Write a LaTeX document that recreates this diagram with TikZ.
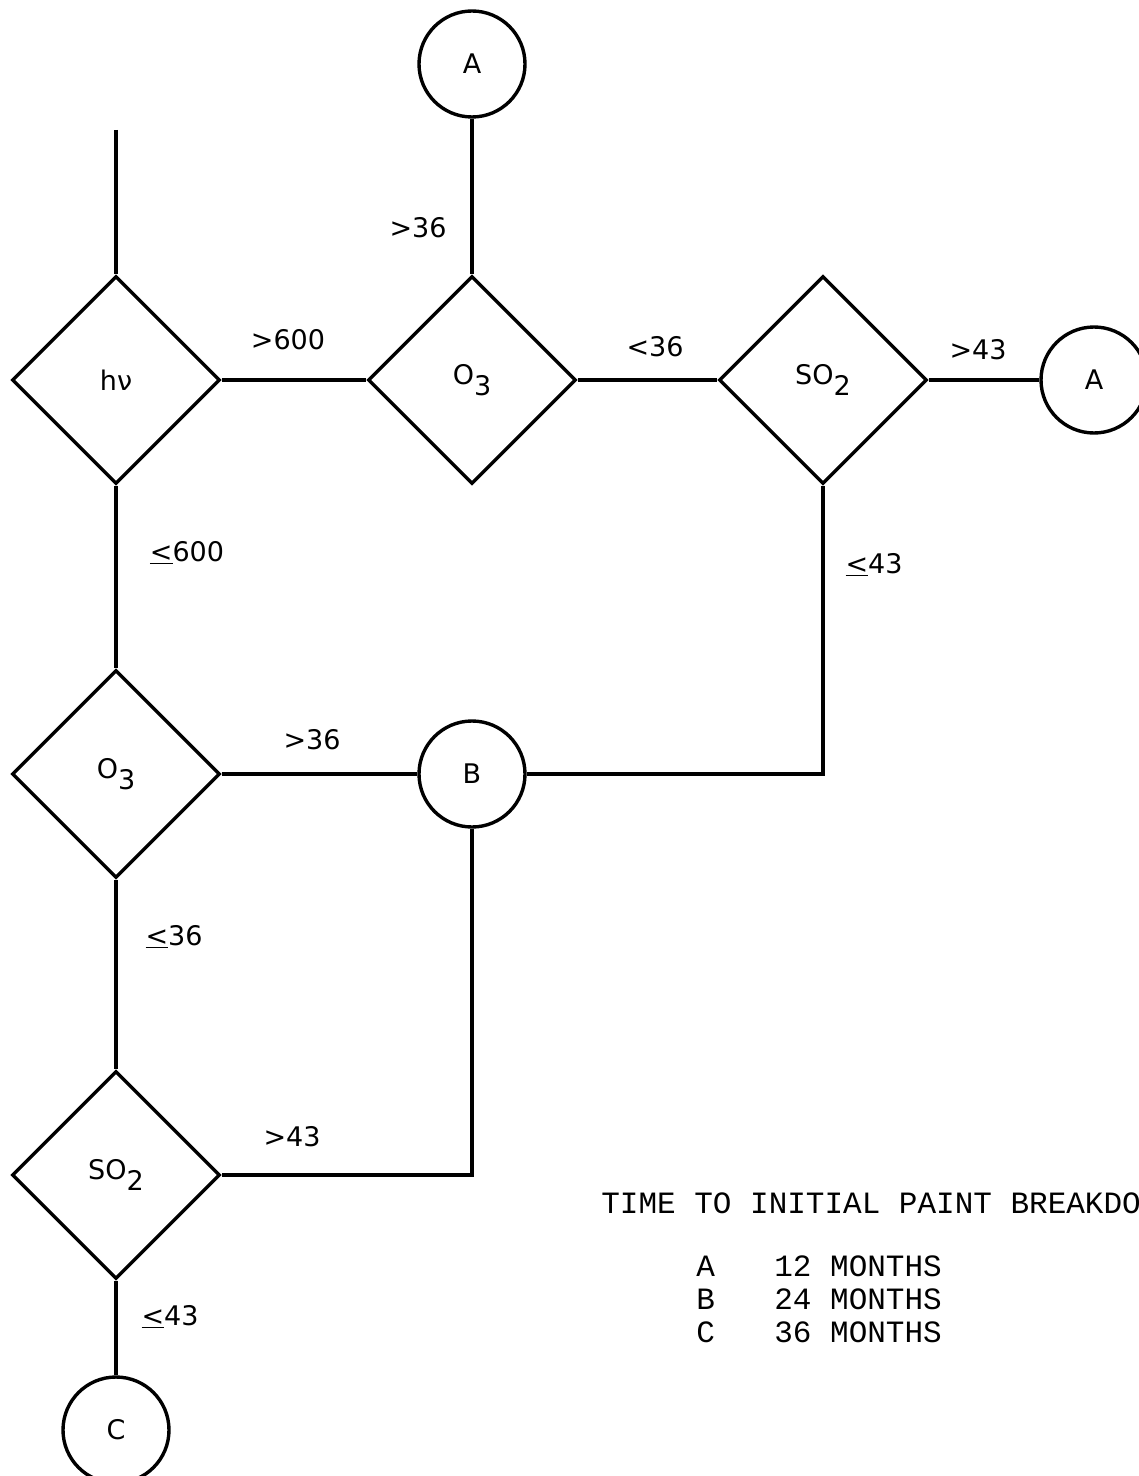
\documentclass[tikz,border=0pt]{standalone}
\usepackage{fontspec}
\setmainfont{DejaVu Sans}
\setmonofont{Liberation Mono}
\usetikzlibrary{shapes.geometric}

\tikzset{
  test/.style={draw,diamond,aspect=1,minimum size=104pt,inner sep=0pt,line width=1.7pt,font=\fontsize{13.5}{15}\selectfont},
  result/.style={draw,circle,minimum size=53pt,inner sep=0pt,line width=1.7pt,font=\fontsize{13.5}{15}\selectfont},
  cond/.style={font=\fontsize{13.5}{16}\selectfont},
  legend/.style={anchor=base west,font=\ttfamily\fontsize{15.5}{18}\selectfont}
}
\newcommand{\sub}[1]{\raisebox{-0.75ex}{#1}}

\begin{document}
\begin{tikzpicture}[x=0.5pt,y=-0.5pt,line width=1.7pt]
        \useasboundingbox (0,0) rectangle (1139,1476);
        % tests
        \node[test] (hv) at (116,380) {hν};
        \node[test] (o3a) at (472,380) {O\sub{3}};
        \node[test] (so2a) at (823,380) {SO\sub{2}};
        \node[test] (o3b) at (116,774) {O\sub{3}};
        \node[test] (so2b) at (116,1175) {SO\sub{2}};
        % results
        \node[result] (atop) at (472,64) {A};
        \node[result] (aright) at (1094,380) {A};
        \node[result] (b) at (472,774) {B};
        \node[result] (c) at (116,1430) {C};
        \coordinate (start) at (116,130);
        % connectors
        \draw (start) -- (hv.north);
        \draw (hv.east) -- (o3a.west);
        \draw (o3a.north) -- (atop.south);
        \draw (o3a.east) -- (so2a.west);
        \draw (so2a.east) -- (aright.west);
        \draw (so2a.south) |- (b.east);
        \draw (hv.south) -- (o3b.north);
        \draw (o3b.east) -- (b.west);
        \draw (b.south) |- (so2b.east);
        \draw (o3b.south) -- (so2b.north);
        \draw (so2b.south) -- (c.north);
        % conditions
        \node[cond] (l1) at (288,340) {>600};
        \node[cond] (l2) at (418,228) {>36};
        \node[cond] (l3) at (655,347) {<36};
        \node[cond] (l4) at (978,350) {>43};
        \node[cond] (l5) at (874,565) {\underline{<}43};
        \node[cond] (l6) at (187,553) {\underline{<}600};
        \node[cond] (l7) at (312,740) {>36};
        \node[cond] (l8) at (174,937) {\underline{<}36};
        \node[cond] (l9) at (292,1137) {>43};
        \node[cond] (l10) at (170,1317) {\underline{<}43};
        % legend
        \node[legend] (title) at (593,1213) {TIME TO INITIAL PAINT BREAKDOWN};
        \node[legend] (ka) at (688,1276) {A};
        \node[legend] (va) at (766,1276) {12 MONTHS};
        \node[legend] (kb) at (688,1309) {B};
        \node[legend] (vb) at (766,1309) {24 MONTHS};
        \node[legend] (kc) at (688,1342) {C};
        \node[legend] (vc) at (766,1342) {36 MONTHS};
    \end{tikzpicture}
\end{document}
